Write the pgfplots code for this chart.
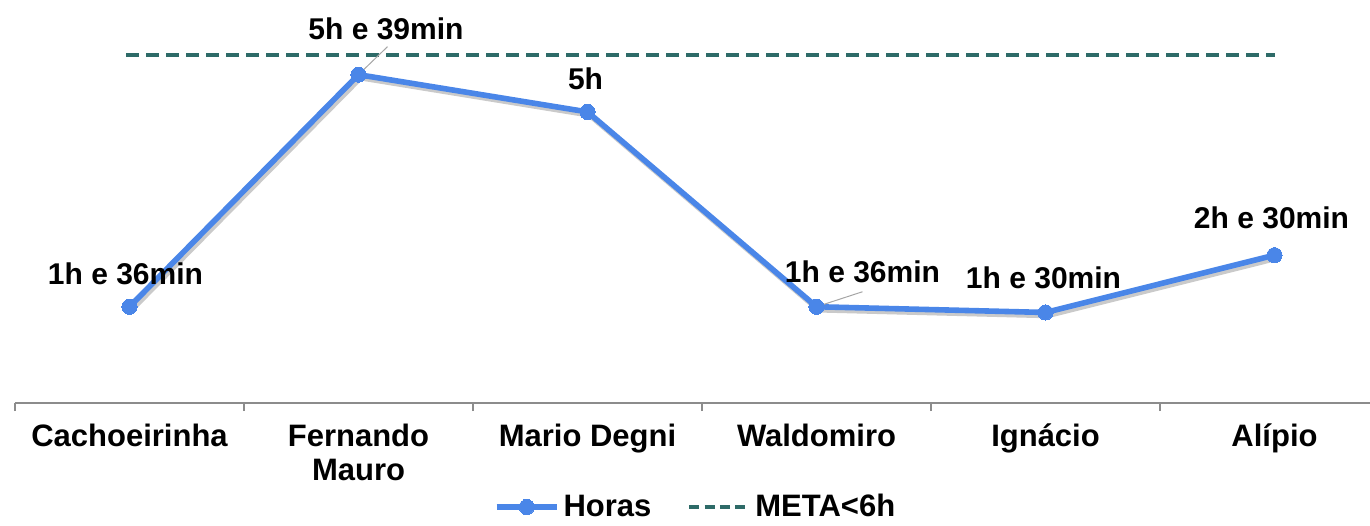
\documentclass[border=0pt]{standalone}
\usepackage{pgfplots}
\pgfplotsset{compat=1.18}
\usepackage{fontspec}
\setmainfont{Liberation Sans}
\definecolor{linecol}{HTML}{4A86E8}
\definecolor{metacol}{HTML}{2E6B68}
\definecolor{axcol}{HTML}{8C8C8C}
\begin{document}
\begin{tikzpicture}
\useasboundingbox (-7.5pt,-61pt) rectangle (677.5pt,201.5pt);
\begin{axis}[
  at={(0,0)}, anchor=south west,
  scale only axis, width=677.5pt, height=201.5pt,
  xmin=-0.5, xmax=5.417, ymin=-0.08, ymax=6.953,
  axis x line*=bottom, axis y line=none,
  clip=false,
  axis line style={axcol, line width=0.8pt},
  xtick={0,1,2,3,4,5},
  xticklabels={Cachoeirinha,{Fernando\\Mauro},Mario Degni,Waldomiro,Ignácio,Alípio},
  major tick length=0pt,
  minor xtick={-0.5,0.5,1.5,2.5,3.5,4.5},
  minor tick length=4pt,
  tick align=outside,
  minor tick style={axcol, line width=0.8pt},
  xticklabel style={font=\bfseries\fontsize{15.5}{17}\selectfont, align=center, yshift=-7pt, anchor=north},
  legend style={at={(axis description cs:0.503,-0.258)}, anchor=center, draw=none, fill=none,
    legend columns=2, font=\bfseries\fontsize{15.5}{17}\selectfont,
    /tikz/every even column/.append style={column sep=16pt}, inner sep=0pt},
  legend image code/.code={\draw[mark repeat=2,mark phase=2] plot coordinates {(0pt,0pt)(15pt,0pt)(30pt,0pt)};},
]
\addplot[black!35, opacity=0.6, line width=2.8pt, shift={(1pt,-1.5pt)}, forget plot] coordinates {
  (0,1.6) (1,5.65) (2,5.0) (3,1.6) (4,1.5) (5,2.5)};
\addplot[linecol, line width=2.8pt, mark=*, mark size=3.8pt, mark options={fill=linecol, draw=linecol, line width=0pt}] coordinates {
  (0,1.6) (1,5.65) (2,5.0) (3,1.6) (4,1.5) (5,2.5)};
\addlegendentry{Horas}
\addplot[metacol, line width=2pt, dash pattern=on 6.5pt off 3.5pt,
  legend image post style={dash pattern=on 5pt off 2.6pt}] coordinates {
  (-0.015,6) (5,6)};
\addlegendentry{META<6h}
% leader lines
\draw[gray!70, line width=0.5pt] (axis cs:1,5.65) -- ++(14.5pt,14pt);
\draw[gray!70, line width=0.5pt] (axis cs:3,1.6) -- ++(23pt,7.5pt);
% data labels
\begin{scope}[every node/.style={font=\bfseries\fontsize{15}{17}\selectfont, anchor=center, inner sep=0pt}]
\node at ([shift={(-2pt,16.5pt)}]axis cs:0,1.6) {1h e 36min};
\node at ([shift={(13.75pt,23pt)}]axis cs:1,5.65) {5h e 39min};
\node at ([shift={(-1pt,16.5pt)}]axis cs:2,5.0) {5h};
\node at ([shift={(23pt,17.5pt)}]axis cs:3,1.6) {1h e 36min};
\node at ([shift={(-1pt,17.5pt)}]axis cs:4,1.5) {1h e 30min};
\node at ([shift={(-1.5pt,18.5pt)}]axis cs:5,2.5) {2h e 30min};
\end{scope}
\end{axis}
\end{tikzpicture}
\end{document}
